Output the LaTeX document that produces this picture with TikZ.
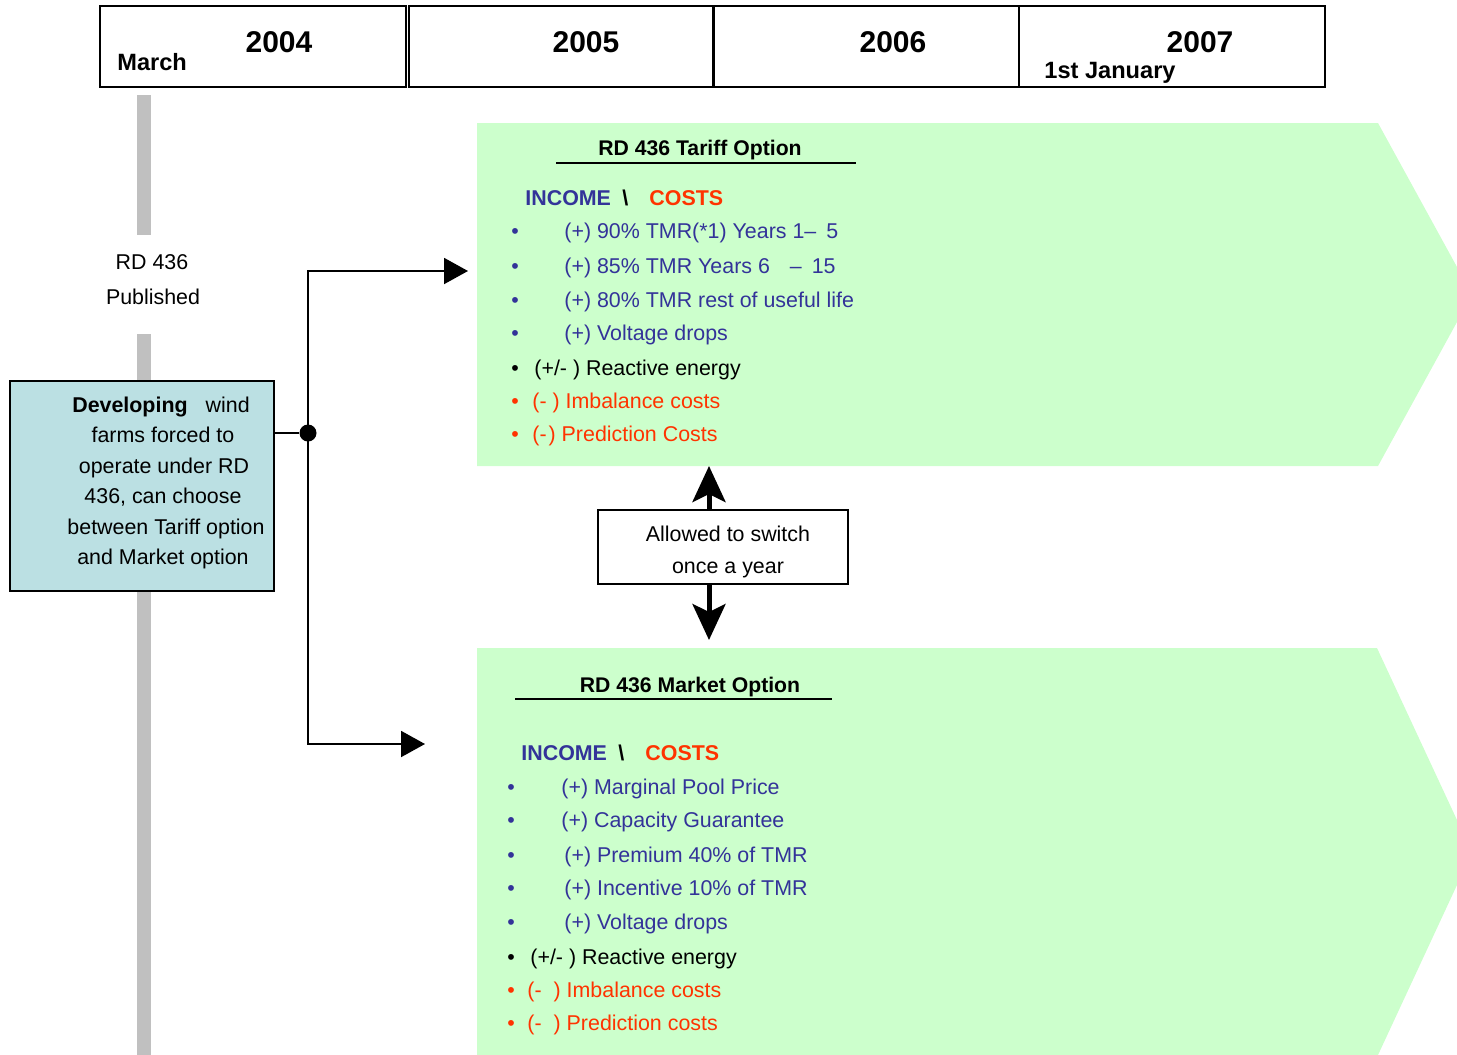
\documentclass[tikz,border=0pt]{standalone}
\usepackage{fontspec}
\setmainfont{Liberation Sans}
\usetikzlibrary{arrows.meta}
\definecolor{grn}{RGB}{204,255,204}
\definecolor{boxblue}{RGB}{187,224,227}
\definecolor{incblue}{RGB}{51,51,153}
\definecolor{costred}{RGB}{255,51,0}
\definecolor{bargray}{RGB}{192,192,192}
\newcommand\myitem[6]{%
  \node[bul, text=#5] (#1b) at (#2,#4) {•};
  \node[txt, text=#5] (#1) at (#3,#4) {#6};}
\tikzset{
  txt/.style={anchor=base west, inner sep=0pt, font=\fontsize{10.7}{13}\selectfont},
  bul/.style={anchor=base, inner sep=0pt, font=\fontsize{10.7}{13}\selectfont},
  ctxt/.style={anchor=base, inner sep=0pt, font=\fontsize{10.7}{13}\selectfont},
  hdr/.style={txt, font=\fontsize{10.7}{13}\selectfont\bfseries},
  ttl/.style={ctxt, font=\fontsize{10.6}{13}\selectfont\bfseries},
  yearbox/.style={draw, line width=1pt, anchor=north west, inner sep=0pt, minimum height=40.5pt},
  yeartxt/.style={anchor=base, inner sep=0pt, font=\fontsize{15}{18}\selectfont\bfseries},
  subtxt/.style={anchor=base west, inner sep=0pt, font=\fontsize{11.8}{13}\selectfont\bfseries},
  conn/.style={draw, line width=1pt},
  tri/.style={-{Triangle[length=12pt,width=13pt]}},
  bigarr/.style={line width=2.5pt, -{Stealth[length=18pt,width=16.5pt,inset=4pt]}},
}
\begin{document}
\begin{tikzpicture}[x=0.5pt,y=-0.5pt]
\useasboundingbox (0,0) rectangle (1457,1055);

% year header
\node[yearbox, minimum width=153pt] (y1) at (99,5) {};
\node[yearbox, minimum width=152pt] (y2) at (408,5) {};
\node[yearbox, minimum width=152.5pt] (y3) at (713,5) {};
\node[yearbox, minimum width=153pt] (y4) at (1018,5) {};
\node[yeartxt] (t2004) at (279,52) {2004};
\node[yeartxt] (t2005) at (586,52) {2005};
\node[yeartxt] (t2006) at (893,52) {2006};
\node[yeartxt] (t2007) at (1200,52) {2007};
\node[subtxt] (march) at (117,70) {March};
\node[subtxt] (jan) at (1044,78) {1st January};

% grey time bar
\fill[bargray] (137,95) rectangle (151,235);
\fill[bargray] (137,334) rectangle (151,1055);

\node[ctxt] (rd) at (152,269) {RD 436};
\node[ctxt] (pub) at (153,304) {Published};

% green option shapes
\fill[grn] (477,123) -- (1378,123) -- (1457,267) -- (1457,322) -- (1378,466) -- (477,466) -- cycle;
\fill[grn] (477,648) -- (1377,648) -- (1457,820) -- (1457,885) -- (1378,1055) -- (477,1055) -- cycle;

% developing box
\node[draw, line width=1pt, fill=boxblue, anchor=north west, inner sep=0pt,
      minimum width=132pt, minimum height=105pt] (dev) at (9,380) {};
\node[ctxt] (d1) at (161,412) {\textbf{Developing}\hspace{9pt}wind};
\node[ctxt] (d2) at (163,442) {farms forced to};
\node[ctxt] (d3) at (164,473) {operate under RD};
\node[ctxt] (d4) at (163,503) {436, can choose};
\node[ctxt] (d5) at (166,534) {between Tariff option};
\node[ctxt] (d6) at (163,564) {and Market option};

% connectors
\node[circle, fill=black, inner sep=0pt, minimum size=8.5pt] (junc) at (308,433) {};
\coordinate (ttip) at (468,271);
\coordinate (mtip) at (425,744);
\draw[conn] (dev.east |- junc) -- (junc);
\draw[conn, tri] (junc.center) |- (ttip);
\draw[conn, tri] (junc.center) |- (mtip);

% switch box
\node[draw, line width=0.75pt, fill=white, inner sep=0pt,
      minimum width=125pt, minimum height=37pt] (switch) at (723,547) {};
\node[ctxt] (s1) at (728,541) {Allowed to switch};
\node[ctxt] (s2) at (728,573) {once a year};
\coordinate (uptip) at (709,466);
\coordinate (dntip) at (709,640);
\draw[bigarr] (uptip |- switch.north) -- (uptip);
\draw[bigarr] (dntip |- switch.south) -- (dntip);

% tariff option text
\node[ttl] (ttitle) at (700,155) {RD 436 Tariff Option};
\draw[line width=0.75pt] (556,163) -- (856,163);
\node[hdr, text=incblue] (inc1) at (525,205) {INCOME};
\node[hdr] (sl1) at (622,205) {\textbackslash};
\node[hdr, text=costred] (cost1) at (649,205) {COSTS};
\myitem{ta}{515}{564}{238}{incblue}{(+) 90\% TMR(*1) Years 1–\hspace{5pt}5}
\myitem{tb}{515}{564}{273}{incblue}{(+) 85\% TMR Years 6\hspace{10pt}–\hspace{5pt}15}
\myitem{tc}{515}{564}{307}{incblue}{(+) 80\% TMR rest of useful life}
\myitem{td}{515}{564}{340}{incblue}{(+) Voltage drops}
\myitem{te}{515}{534}{375}{black}{(+/- ) Reactive energy}
\myitem{tf}{515}{532}{408}{costred}{(- ) Imbalance costs}
\myitem{tg}{515}{532}{441}{costred}{(-\hspace{1pt}) Prediction Costs}

% market option text
\node[ttl] (mtitle) at (690,692) {RD 436 Market Option};
\draw[line width=0.75pt] (515,699) -- (832,699);
\node[hdr, text=incblue] (inc2) at (521,760) {INCOME};
\node[hdr] (sl2) at (618,760) {\textbackslash};
\node[hdr, text=costred] (cost2) at (645,760) {COSTS};
\myitem{ma}{511}{561}{794}{incblue}{(+) Marginal Pool Price}
\myitem{mb}{511}{561}{827}{incblue}{(+) Capacity Guarantee}
\myitem{mc}{511}{564}{862}{incblue}{(+) Premium 40\% of TMR}
\myitem{md}{511}{564}{895}{incblue}{(+) Incentive 10\% of TMR}
\myitem{me}{511}{564}{929}{incblue}{(+) Voltage drops}
\myitem{mf}{511}{530}{964}{black}{(+/- ) Reactive energy}
\myitem{mg}{511}{527}{997}{costred}{(-\hspace{6pt}) Imbalance costs}
\myitem{mh}{511}{527}{1030}{costred}{(-\hspace{6pt}) Prediction costs}
\end{tikzpicture}
\end{document}
